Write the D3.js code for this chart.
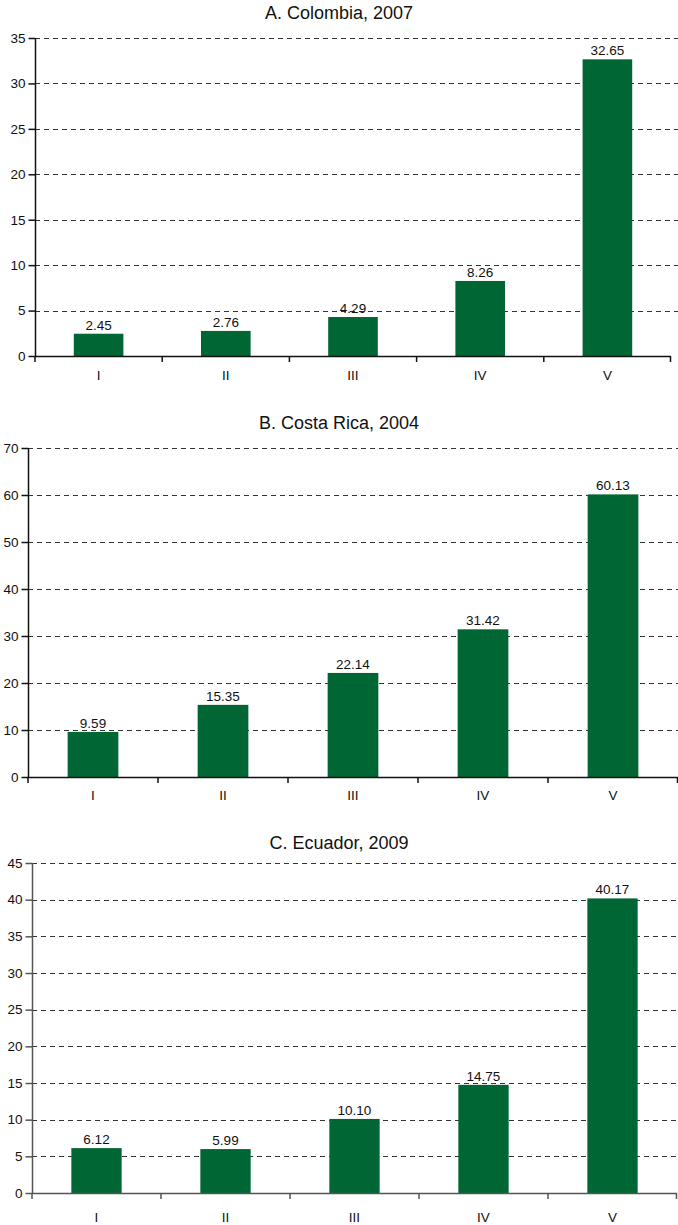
<!DOCTYPE html>
<html>
<head>
<meta charset="utf-8">
<script src="https://cdn.jsdelivr.net/npm/d3@7"></script>
<style>
  html, body { margin: 0; padding: 0; background: #fff; }
  svg { display: block; font-family: "Liberation Sans", Arial, sans-serif; }
</style>
</head>
<body>
<svg id="chart" width="678" height="1225"></svg>
<script>
// ---- Data ----
const categories = ["I", "II", "III", "IV", "V"];
const titles = ["A. Colombia, 2007", "B. Costa Rica, 2004", "C. Ecuador, 2009"];
const colombiaValues = [2.45, 2.76, 4.29, 8.26, 32.65];
const costaRicaValues = [9.59, 15.35, 22.14, 31.42, 60.13];
const ecuadorValues = [6.12, 5.99, 10.10, 14.75, 40.17];
const colombiaTicks = [0, 5, 10, 15, 20, 25, 30, 35];
const costaRicaTicks = [0, 10, 20, 30, 40, 50, 60, 70];
const ecuadorTicks = [0, 5, 10, 15, 20, 25, 30, 35, 40, 45];
const valueLabelsColombia = ["2.45", "2.76", "4.29", "8.26", "32.65"];
const valueLabelsCostaRica = ["9.59", "15.35", "22.14", "31.42", "60.13"];
const valueLabelsEcuador = ["6.12", "5.99", "10.10", "14.75", "40.17"];

// ---- Layout (positions / styles) ----
const panels = [
  { title: titles[0], values: colombiaValues, labels: valueLabelsColombia, ticks: colombiaTicks,
    left: 35, right: 671, top: 38, bottom: 356, gridRight: 678, titleY: 19, catDy: 24, axisColor: "#111" },
  { title: titles[1], values: costaRicaValues, labels: valueLabelsCostaRica, ticks: costaRicaTicks,
    left: 28, right: 678, top: 448, bottom: 777, gridRight: 678, titleY: 429, catDy: 23, axisColor: "#111" },
  { title: titles[2], values: ecuadorValues, labels: valueLabelsEcuador, ticks: ecuadorTicks,
    left: 32, right: 677, top: 863, bottom: 1193, gridRight: 678, titleY: 849, catDy: 29, axisColor: "#555" }
];

const barColor = "#006633";
const svg = d3.select("#chart");

panels.forEach(p => {
  const g = svg.append("g");
  const x = d3.scaleBand()
    .domain(categories)
    .range([p.left, p.right])
    .paddingInner(0.61)
    .paddingOuter(0.305);
  const yMax = p.ticks[p.ticks.length - 1];
  const y = d3.scaleLinear().domain([0, yMax]).range([p.bottom, p.top]);

  // Title
  g.append("text")
    .attr("x", 339).attr("y", p.titleY)
    .attr("text-anchor", "middle")
    .attr("font-size", 18)
    .attr("fill", "#111")
    .text(p.title);

  // Gridlines (dashed)
  g.selectAll("line.grid")
    .data(p.ticks.filter(t => t > 0))
    .enter().append("line")
    .attr("class", "grid")
    .attr("x1", p.left).attr("x2", p.gridRight)
    .attr("y1", d => Math.round(y(d)) + 0.5).attr("y2", d => Math.round(y(d)) + 0.5)
    .attr("stroke", "#333")
    .attr("stroke-width", 1)
    .attr("stroke-dasharray", "5,4");

  // Bars
  g.selectAll("rect.bar")
    .data(p.values)
    .enter().append("rect")
    .attr("class", "bar")
    .attr("x", (d, i) => x(categories[i]))
    .attr("width", x.bandwidth())
    .attr("y", d => y(d))
    .attr("height", d => y(0) - y(d))
    .attr("fill", barColor);

  // Value labels
  g.selectAll("text.val")
    .data(p.values)
    .enter().append("text")
    .attr("class", "val")
    .attr("x", (d, i) => x(categories[i]) + x.bandwidth() / 2)
    .attr("y", d => y(d) - 4)
    .attr("text-anchor", "middle")
    .attr("font-size", 13.5)
    .attr("fill", "#111")
    .text((d, i) => p.labels[i]);

  // Y axis
  const yAxis = d3.axisLeft(y).tickValues(p.ticks).tickSize(7).tickPadding(3).tickFormat(d3.format("d"));
  const ya = g.append("g").attr("transform", `translate(${p.left + 0.5},0)`).call(yAxis);
  ya.select(".domain").attr("stroke", p.axisColor).attr("stroke-width", 1.5)
    .attr("d", `M0,${p.top}V${p.bottom}`);
  ya.selectAll(".tick line").attr("stroke", p.axisColor).attr("stroke-width", 1.5);
  ya.selectAll(".tick text").attr("font-size", 13.5).attr("fill", "#111")
    .attr("font-family", "'Liberation Sans', Arial, sans-serif");

  // X axis line
  g.append("line")
    .attr("x1", p.left).attr("x2", p.right)
    .attr("y1", p.bottom + 0.5).attr("y2", p.bottom + 0.5)
    .attr("stroke", p.axisColor).attr("stroke-width", 1.5);

  // X boundary ticks
  const step = x.step();
  const bounds = d3.range(categories.length + 1).map(i => p.left + i * step);
  g.selectAll("line.xtick")
    .data(bounds)
    .enter().append("line")
    .attr("class", "xtick")
    .attr("x1", d => Math.min(d, p.right - 0.5)).attr("x2", d => Math.min(d, p.right - 0.5))
    .attr("y1", p.bottom).attr("y2", p.bottom + 6)
    .attr("stroke", p.axisColor).attr("stroke-width", 1.5);

  // Category labels
  g.selectAll("text.cat")
    .data(categories)
    .enter().append("text")
    .attr("class", "cat")
    .attr("x", d => x(d) + x.bandwidth() / 2)
    .attr("y", p.bottom + p.catDy)
    .attr("text-anchor", "middle")
    .attr("font-size", 13.5)
    .attr("fill", "#111")
    .text(d => d);
});
</script>
</body>
</html>
